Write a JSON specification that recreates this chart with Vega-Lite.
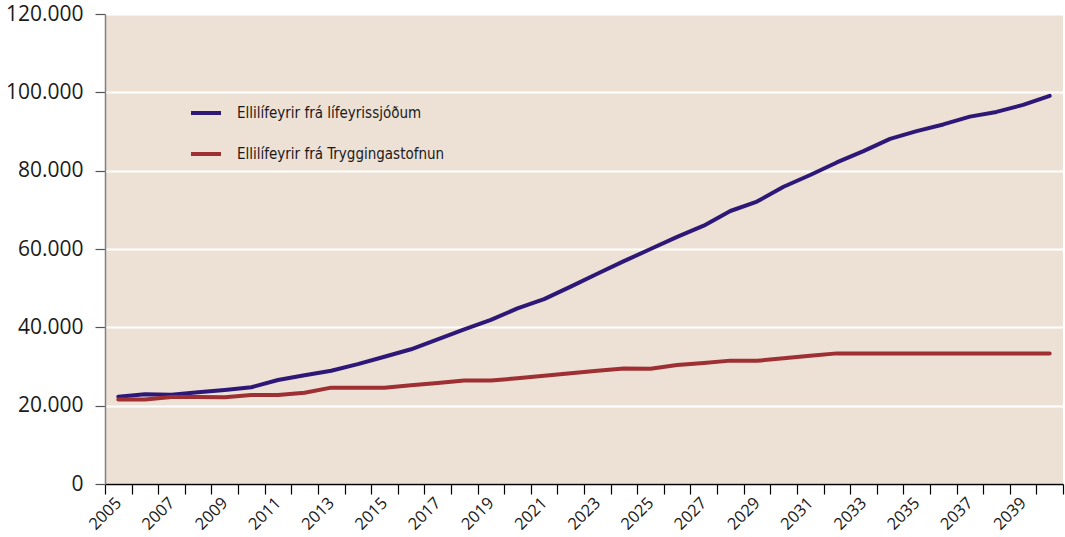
{
  "$schema": "https://vega.github.io/schema/vega-lite/v6.json",
  "width": 958,
  "height": 470,
  "autosize": {"type": "none"},
  "padding": {"left": 105, "top": 14, "right": 2, "bottom": 53},
  "background": "#ffffff",
  "config": {
    "view": {"fill": "#EDE0D5", "stroke": null},
    "font": "Open Sans"
  },
  "data": {
    "values": [
      {"year": 2005, "series": "Ellilífeyrir frá lífeyrissjóðum", "value": 22300},
      {"year": 2006, "series": "Ellilífeyrir frá lífeyrissjóðum", "value": 22900},
      {"year": 2007, "series": "Ellilífeyrir frá lífeyrissjóðum", "value": 22800},
      {"year": 2008, "series": "Ellilífeyrir frá lífeyrissjóðum", "value": 23400},
      {"year": 2009, "series": "Ellilífeyrir frá lífeyrissjóðum", "value": 24000},
      {"year": 2010, "series": "Ellilífeyrir frá lífeyrissjóðum", "value": 24700},
      {"year": 2011, "series": "Ellilífeyrir frá lífeyrissjóðum", "value": 26550},
      {"year": 2012, "series": "Ellilífeyrir frá lífeyrissjóðum", "value": 27750},
      {"year": 2013, "series": "Ellilífeyrir frá lífeyrissjóðum", "value": 28900},
      {"year": 2014, "series": "Ellilífeyrir frá lífeyrissjóðum", "value": 30600},
      {"year": 2015, "series": "Ellilífeyrir frá lífeyrissjóðum", "value": 32500},
      {"year": 2016, "series": "Ellilífeyrir frá lífeyrissjóðum", "value": 34400},
      {"year": 2017, "series": "Ellilífeyrir frá lífeyrissjóðum", "value": 36900},
      {"year": 2018, "series": "Ellilífeyrir frá lífeyrissjóðum", "value": 39500},
      {"year": 2019, "series": "Ellilífeyrir frá lífeyrissjóðum", "value": 41900},
      {"year": 2020, "series": "Ellilífeyrir frá lífeyrissjóðum", "value": 44850},
      {"year": 2021, "series": "Ellilífeyrir frá lífeyrissjóðum", "value": 47200},
      {"year": 2022, "series": "Ellilífeyrir frá lífeyrissjóðum", "value": 50400},
      {"year": 2023, "series": "Ellilífeyrir frá lífeyrissjóðum", "value": 53700},
      {"year": 2024, "series": "Ellilífeyrir frá lífeyrissjóðum", "value": 56900},
      {"year": 2025, "series": "Ellilífeyrir frá lífeyrissjóðum", "value": 60000},
      {"year": 2026, "series": "Ellilífeyrir frá lífeyrissjóðum", "value": 63100},
      {"year": 2027, "series": "Ellilífeyrir frá lífeyrissjóðum", "value": 65950},
      {"year": 2028, "series": "Ellilífeyrir frá lífeyrissjóðum", "value": 69700},
      {"year": 2029, "series": "Ellilífeyrir frá lífeyrissjóðum", "value": 72100},
      {"year": 2030, "series": "Ellilífeyrir frá lífeyrissjóðum", "value": 75900},
      {"year": 2031, "series": "Ellilífeyrir frá lífeyrissjóðum", "value": 78900},
      {"year": 2032, "series": "Ellilífeyrir frá lífeyrissjóðum", "value": 82100},
      {"year": 2033, "series": "Ellilífeyrir frá lífeyrissjóðum", "value": 85000},
      {"year": 2034, "series": "Ellilífeyrir frá lífeyrissjóðum", "value": 88100},
      {"year": 2035, "series": "Ellilífeyrir frá lífeyrissjóðum", "value": 90100},
      {"year": 2036, "series": "Ellilífeyrir frá lífeyrissjóðum", "value": 91800},
      {"year": 2037, "series": "Ellilífeyrir frá lífeyrissjóðum", "value": 93800},
      {"year": 2038, "series": "Ellilífeyrir frá lífeyrissjóðum", "value": 95000},
      {"year": 2039, "series": "Ellilífeyrir frá lífeyrissjóðum", "value": 96800},
      {"year": 2040, "series": "Ellilífeyrir frá lífeyrissjóðum", "value": 99100},
      {"year": 2005, "series": "Ellilífeyrir frá Tryggingastofnun", "value": 21600},
      {"year": 2006, "series": "Ellilífeyrir frá Tryggingastofnun", "value": 21550},
      {"year": 2007, "series": "Ellilífeyrir frá Tryggingastofnun", "value": 22200},
      {"year": 2008, "series": "Ellilífeyrir frá Tryggingastofnun", "value": 22200},
      {"year": 2009, "series": "Ellilífeyrir frá Tryggingastofnun", "value": 22150},
      {"year": 2010, "series": "Ellilífeyrir frá Tryggingastofnun", "value": 22700},
      {"year": 2011, "series": "Ellilífeyrir frá Tryggingastofnun", "value": 22700},
      {"year": 2012, "series": "Ellilífeyrir frá Tryggingastofnun", "value": 23300},
      {"year": 2013, "series": "Ellilífeyrir frá Tryggingastofnun", "value": 24600},
      {"year": 2014, "series": "Ellilífeyrir frá Tryggingastofnun", "value": 24600},
      {"year": 2015, "series": "Ellilífeyrir frá Tryggingastofnun", "value": 24600},
      {"year": 2016, "series": "Ellilífeyrir frá Tryggingastofnun", "value": 25200},
      {"year": 2017, "series": "Ellilífeyrir frá Tryggingastofnun", "value": 25800},
      {"year": 2018, "series": "Ellilífeyrir frá Tryggingastofnun", "value": 26400},
      {"year": 2019, "series": "Ellilífeyrir frá Tryggingastofnun", "value": 26400},
      {"year": 2020, "series": "Ellilífeyrir frá Tryggingastofnun", "value": 27000},
      {"year": 2021, "series": "Ellilífeyrir frá Tryggingastofnun", "value": 27650},
      {"year": 2022, "series": "Ellilífeyrir frá Tryggingastofnun", "value": 28250},
      {"year": 2023, "series": "Ellilífeyrir frá Tryggingastofnun", "value": 28900},
      {"year": 2024, "series": "Ellilífeyrir frá Tryggingastofnun", "value": 29500},
      {"year": 2025, "series": "Ellilífeyrir frá Tryggingastofnun", "value": 29400},
      {"year": 2026, "series": "Ellilífeyrir frá Tryggingastofnun", "value": 30400},
      {"year": 2027, "series": "Ellilífeyrir frá Tryggingastofnun", "value": 30900},
      {"year": 2028, "series": "Ellilífeyrir frá Tryggingastofnun", "value": 31500},
      {"year": 2029, "series": "Ellilífeyrir frá Tryggingastofnun", "value": 31450},
      {"year": 2030, "series": "Ellilífeyrir frá Tryggingastofnun", "value": 32100},
      {"year": 2031, "series": "Ellilífeyrir frá Tryggingastofnun", "value": 32750},
      {"year": 2032, "series": "Ellilífeyrir frá Tryggingastofnun", "value": 33350},
      {"year": 2033, "series": "Ellilífeyrir frá Tryggingastofnun", "value": 33300},
      {"year": 2034, "series": "Ellilífeyrir frá Tryggingastofnun", "value": 33300},
      {"year": 2035, "series": "Ellilífeyrir frá Tryggingastofnun", "value": 33300},
      {"year": 2036, "series": "Ellilífeyrir frá Tryggingastofnun", "value": 33300},
      {"year": 2037, "series": "Ellilífeyrir frá Tryggingastofnun", "value": 33300},
      {"year": 2038, "series": "Ellilífeyrir frá Tryggingastofnun", "value": 33300},
      {"year": 2039, "series": "Ellilífeyrir frá Tryggingastofnun", "value": 33300},
      {"year": 2040, "series": "Ellilífeyrir frá Tryggingastofnun", "value": 33300}
    ]
  },
  "mark": {"type": "line", "strokeWidth": 4, "strokeCap": "round", "strokeJoin": "round"},
  "encoding": {
    "x": {
      "field": "year",
      "type": "ordinal",
      "bandPosition": 0.5,
      "scale": {"type": "band", "paddingInner": 0, "paddingOuter": 0},
      "axis": {
        "title": null,
        "tickBand": "extent",
        "grid": false,
        "domainColor": "#000000",
        "domainWidth": 1.5,
        "tickColor": "#000000",
        "tickWidth": 1.2,
        "tickSize": 10,
        "labelAngle": -45,
        "labelAlign": "right",
        "labelBaseline": "middle",
        "labelPadding": 6,
        "labelDx": 4,
        "labelFontSize": 16.5,
        "labelColor": "#1a1a1a",
        "labelOverlap": false,
        "labelExpr": "datum.value % 2 == 1 ? datum.label : ''"
      }
    },
    "y": {
      "field": "value",
      "type": "quantitative",
      "scale": {"domain": [0, 120000], "nice": false},
      "axis": {
        "title": null,
        "values": [0, 20000, 40000, 60000, 80000, 100000, 120000],
        "grid": true,
        "gridColor": "#ffffff",
        "gridWidth": 2,
        "domainColor": "#808080",
        "domainWidth": 1.5,
        "tickColor": "#555555",
        "tickWidth": 1.2,
        "tickSize": 10,
        "labelPadding": 12,
        "labelFontSize": 21,
        "labelColor": "#1a1a1a",
        "labelExpr": "replace(format(datum.value, ','), ',', '.')"
      }
    },
    "color": {
      "field": "series",
      "type": "nominal",
      "scale": {
        "domain": ["Ellilífeyrir frá lífeyrissjóðum", "Ellilífeyrir frá Tryggingastofnun"],
        "range": ["#2E1877", "#9E3034"]
      },
      "legend": {
        "title": null,
        "orient": "none",
        "legendX": 84,
        "legendY": 82,
        "padding": 0,
        "symbolType": "stroke",
        "symbolSize": 900,
        "symbolStrokeWidth": 4,
        "rowPadding": 16,
        "labelOffset": 14,
        "labelFont": "DejaVu Sans Condensed, DejaVu Sans, sans-serif",
        "labelFontSize": 15,
        "labelColor": "#1a1a1a",
        "labelLimit": 400
      }
    }
  }
}
